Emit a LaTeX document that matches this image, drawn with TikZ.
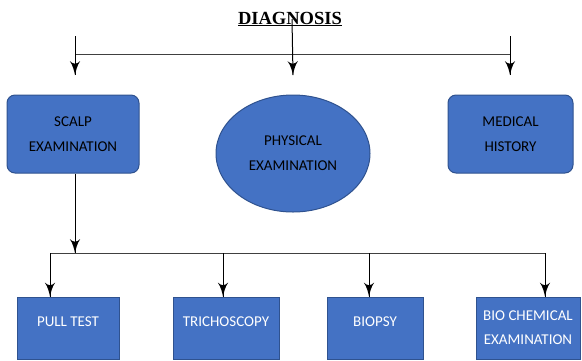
\documentclass[tikz,border=0pt]{standalone}
\usepackage{fontspec}
\setmainfont{Carlito}
\newfontfamily\titlefont{Liberation Serif}
\usetikzlibrary{arrows}
\usetikzlibrary{decorations.markings}
\usetikzlibrary{shapes.geometric}
\definecolor{boxblue}{HTML}{4472C4}
\definecolor{boxedge}{HTML}{2F528F}
\tikzset{arr/.style = {decoration={markings,
                                   mark=at position 1 with {\arrow[scale=2.4]{latex'}}},
                       postaction={decorate}}}
\tikzset{topbox/.style = {draw = boxedge, line width = 1pt, fill = boxblue, rounded corners = 8,
                          align = center, text = black, font = \fontsize{15}{25}\selectfont}}
\tikzset{testbox/.style = {draw = boxedge, line width = 1pt, fill = boxblue, align = center,
                           text = white, font = \fontsize{15}{24}\selectfont,
                           minimum height = 62, inner sep = 0}}
\tikzset{oneline/.style = {text height = 9.5pt, text depth = 13pt}}

\begin{document}
\begin{tikzpicture}[x = 1pt, y = -1pt]
      \useasboundingbox (0, 0) rectangle (582, 360);
      \node [font = \titlefont\bfseries\fontsize{18.5}{20}\selectfont, inner sep = 0] (diag) at (290, 19) {\underline{DIAGNOSIS}};
      \node [topbox, minimum width = 132, minimum height = 78] (scalp) at (73, 134) {SCALP\\EXAMINATION};
      \node [topbox, ellipse, rounded corners = 0, minimum width = 154, minimum height = 117, inner sep = 0] (physical) at (293, 153.5) {PHYSICAL\\EXAMINATION};
      \node [topbox, minimum width = 125, minimum height = 78] (medical) at (510.5, 134) {MEDICAL\\HISTORY};
      \node [testbox, oneline, minimum width = 102] (pull) at (68, 328) {PULL TEST};
      \node [testbox, oneline, minimum width = 106] (tricho) at (226, 328) {TRICHOSCOPY};
      \node [testbox, oneline, minimum width = 96] (biopsy) at (375, 328) {BIOPSY};
      \node [testbox, minimum width = 104] (biochem) at (528, 328) {BIO CHEMICAL\\EXAMINATION};
      \coordinate (sl) at (75, 36);
      \coordinate (sr) at (510, 36);
      \coordinate (tl) at (75, 54);
      \coordinate (tr) at (510, 54);
      \coordinate (al) at (75, 75);
      \coordinate (ar) at (510, 75);
      \coordinate (j1) at (50, 253);
      \coordinate (j2) at (223, 253);
      \coordinate (j3) at (369, 253);
      \coordinate (j4) at (545, 253);
      \draw [black!75, line width = 0.9pt] (tl) -- (tr);
      \draw [arr, line width = 1pt] (sl) -- (al);
      \draw [arr, line width = 1pt] (sr) -- (ar);
      \draw [arr, line width = 1pt] ([xshift = 2pt] diag.center) -- (al -| physical.north);
      \draw [arr, line width = 1pt] (scalp.south -| tl) -- (tl |- j1);
      \draw [black!75, line width = 0.9pt] (j1) -- (j4);
      \draw [arr, line width = 1pt] (j1) -- (j1 |- pull.north);
      \draw [arr, line width = 1pt] (j2) -- (j2 |- tricho.north);
      \draw [arr, line width = 1pt] (j3) -- (j3 |- biopsy.north);
      \draw [arr, line width = 1pt] (j4) -- (j4 |- biochem.north);
    \end{tikzpicture}
\end{document}
